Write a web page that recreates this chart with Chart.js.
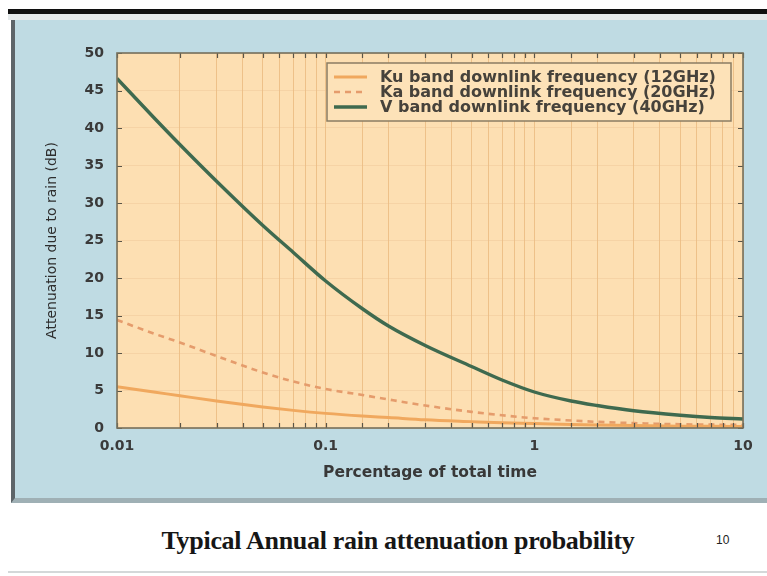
<!DOCTYPE html>
<html>
<head>
<meta charset="utf-8">
<script src="https://cdn.jsdelivr.net/npm/chart.js@4.4.1/dist/chart.umd.min.js"></script>
<style>
  html, body { margin: 0; padding: 0; width: 767px; height: 576px; overflow: hidden; background: #ffffff; }
  #slide { position: relative; width: 767px; height: 576px; }
  .topbar { position: absolute; left: 8px; top: 9px; width: 759px; height: 5px; background: #101010; }
  .topgap { position: absolute; left: 8px; top: 14px; width: 759px; height: 6px; background: #e4e9ea; }
  .panel { position: absolute; left: 11px; top: 20px; width: 756px; height: 483px; box-sizing: border-box;
           background: #bfdbe3; border-left: 4px solid #5d6569; border-bottom: 5px solid #9fb0b5; }
  .footline { position: absolute; left: 8px; top: 571px; width: 759px; height: 2px; background: #d4d8d9; }
  .caption { position: absolute; left: 398px; top: 526px; transform: translateX(-50%); white-space: nowrap;
             font: bold 26px "Liberation Serif", "DejaVu Serif", serif; color: #161616; letter-spacing: -0.3px; }
  .pageno { position: absolute; left: 716px; top: 533px; font: 12px "Liberation Sans", sans-serif; color: #222; }
  canvas { position: absolute; left: 0; top: 0; }
</style>
</head>
<body>
<div id="slide">
  <div class="topbar"></div>
  <div class="topgap"></div>
  <div class="panel"></div>
  <div class="footline"></div>
  <div class="caption">Typical Annual rain attenuation probability</div>
  <div class="pageno">10</div>
  <canvas id="chart" width="767" height="576"></canvas>
</div>
<script>
// Percentage of the year that the attenuation is exceeded
const pctOfTime = [0.01, 0.015, 0.02, 0.03, 0.05, 0.07, 0.1, 0.15, 0.2, 0.3, 0.5, 0.7, 1, 1.5, 2, 3, 5, 7, 10];
// Rain attenuation (dB) per downlink band
const kuBand = [5.5, 4.8, 4.3, 3.6, 2.8, 2.35, 1.95, 1.6, 1.4, 1.1, 0.85, 0.7, 0.6, 0.47, 0.4, 0.32, 0.25, 0.22, 0.2];
const kaBand = [14.4, 12.6, 11.4, 9.6, 7.4, 6.2, 5.2, 4.4, 3.8, 3.0, 2.15, 1.7, 1.3, 1.0, 0.82, 0.65, 0.5, 0.45, 0.4];
const vBand  = [46.6, 41.4, 37.8, 32.9, 27.0, 23.4, 19.6, 15.9, 13.6, 11.0, 8.2, 6.4, 4.8, 3.6, 3.0, 2.3, 1.7, 1.4, 1.2];
const seriesNames = [
  'Ku band downlink frequency (12GHz)',
  'Ka band downlink frequency (20GHz)',
  'V band downlink frequency (40GHz)'
];
const xTickLabels = ['0.01', '0.1', '1', '10'];
const yTicks = [0, 5, 10, 15, 20, 25, 30, 35, 40, 45, 50];

const toPoints = vals => pctOfTime.map((x, i) => ({ x, y: vals[i] }));

const plotFrame = {
  id: 'plotFrame',
  beforeDraw(chart) {
    const { ctx, chartArea: a } = chart;
    ctx.save();
    ctx.fillStyle = '#fddfb2';
    ctx.fillRect(a.left, a.top, a.right - a.left, a.bottom - a.top);
    ctx.restore();
  },
  afterDatasetsDraw(chart) {
    const { ctx, chartArea: a, scales } = chart;
    ctx.save();
    // inward tick marks on all four sides
    ctx.strokeStyle = '#5a5548';
    ctx.lineWidth = 1.2;
    ctx.beginPath();
    scales.x.ticks.forEach(t => {
      const px = Math.round(scales.x.getPixelForValue(t.value)) + 0.5;
      ctx.moveTo(px, a.bottom); ctx.lineTo(px, a.bottom - 5);
      ctx.moveTo(px, a.top); ctx.lineTo(px, a.top + 5);
    });
    scales.y.ticks.forEach(t => {
      const py = Math.round(scales.y.getPixelForValue(t.value)) + 0.5;
      ctx.moveTo(a.left, py); ctx.lineTo(a.left + 5, py);
      ctx.moveTo(a.right, py); ctx.lineTo(a.right - 5, py);
    });
    ctx.stroke();
    // frame
    ctx.strokeStyle = '#76705c';
    ctx.lineWidth = 1.6;
    ctx.strokeRect(a.left, a.top, a.right - a.left, a.bottom - a.top);
    ctx.restore();
  }
};

const legendBox = {
  id: 'legendBox',
  afterDraw(chart) {
    const { ctx, chartArea: a } = chart;
    const bx = a.left + 210, by = a.top + 10, bw = a.right - 12 - bx, bh = 58;
    ctx.save();
    ctx.fillStyle = '#fde2b8';
    ctx.fillRect(bx, by, bw, bh);
    ctx.strokeStyle = '#8a7c63';
    ctx.lineWidth = 1.5;
    ctx.strokeRect(bx, by, bw, bh);
    ctx.font = 'bold 16px "DejaVu Sans", Verdana, sans-serif';
    ctx.textBaseline = 'middle';
    chart.data.datasets.forEach((ds, i) => {
      const y = by + 14 + i * 15;
      ctx.strokeStyle = ds.borderColor;
      ctx.lineWidth = ds.borderWidth;
      ctx.setLineDash(ds.borderDash || []);
      ctx.beginPath();
      ctx.moveTo(bx + 7, y); ctx.lineTo(bx + 40, y);
      ctx.stroke();
      ctx.setLineDash([]);
      ctx.fillStyle = '#46423b';
      ctx.fillText(ds.label, bx + 53, y + 1);
    });
    ctx.restore();
  }
};

new Chart(document.getElementById('chart'), {
  type: 'line',
  data: {
    datasets: [
      { label: seriesNames[0], data: toPoints(kuBand), borderColor: '#f0a85e', borderWidth: 3, pointRadius: 0, cubicInterpolationMode: 'monotone' },
      { label: seriesNames[1], data: toPoints(kaBand), borderColor: '#e59c6c', borderWidth: 2.6, borderDash: [6, 5], pointRadius: 0, cubicInterpolationMode: 'monotone' },
      { label: seriesNames[2], data: toPoints(vBand), borderColor: '#3f6a4f', borderWidth: 3.4, pointRadius: 0, cubicInterpolationMode: 'monotone' }
    ]
  },
  options: {
    responsive: false,
    animation: false,
    events: [],
    layout: { padding: { left: 14, top: 53, right: 24, bottom: 76 } },
    plugins: { legend: { display: false }, tooltip: { enabled: false } },
    scales: {
      x: {
        type: 'logarithmic',
        min: 0.01, max: 10,
        afterFit: s => { s.height = 72; },
        border: { display: false },
        grid: { color: 'rgba(226,168,104,0.55)', lineWidth: 1, drawTicks: false },
        ticks: {
          autoSkip: false, maxRotation: 0, padding: 10, color: '#3a3a3a',
          font: { family: '"DejaVu Sans", sans-serif', size: 14, weight: 'bold' },
          callback: v => {
            const idx = xTickLabels.findIndex(l => Math.abs(Number(l) - v) < 1e-9);
            return idx >= 0 ? xTickLabels[idx] : '';
          }
        },
        title: {
          display: true, text: 'Percentage of total time', color: '#383838',
          font: { family: '"DejaVu Sans", sans-serif', size: 15.5, weight: 'bold' },
          padding: { top: 0, bottom: 18 }
        }
      },
      y: {
        min: 0, max: 50,
        afterFit: s => { s.width = 103; },
        afterBuildTicks: s => { s.ticks = yTicks.map(v => ({ value: v })); },
        border: { display: false },
        grid: { color: 'rgba(232,190,140,0.35)', lineWidth: 1, drawTicks: false },
        ticks: {
          padding: 13, color: '#3a3a3a',
          font: { family: '"DejaVu Sans", sans-serif', size: 14, weight: 'bold' }
        },
        title: {
          display: true, text: 'Attenuation due to rain (dB)', color: '#2e2e2e',
          font: { family: '"DejaVu Sans", sans-serif', size: 14 },
          padding: { top: 30, bottom: 0 }
        }
      }
    }
  },
  plugins: [plotFrame, legendBox]
});
</script>
</body>
</html>
